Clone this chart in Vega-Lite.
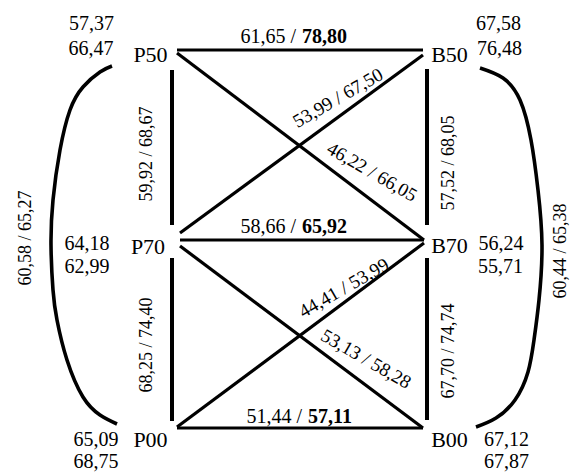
{
  "$schema": "https://vega.github.io/schema/vega-lite/v6.json",
  "width": 573,
  "height": 472,
  "autosize": {"type": "none"},
  "padding": 0,
  "background": "white",
  "config": {"view": {"stroke": null}},
  "datasets": {
    "edges": [
      {"link": "P50-B50", "kind": "horizontal", "x1": 177, "y1": 50, "x2": 423, "y2": 50},
      {"link": "P70-B70", "kind": "horizontal", "x1": 180, "y1": 240, "x2": 424, "y2": 240},
      {"link": "P00-B00", "kind": "horizontal", "x1": 177, "y1": 428, "x2": 423, "y2": 428},
      {"link": "P50-P70", "kind": "vertical", "x1": 172, "y1": 70, "x2": 172, "y2": 225},
      {"link": "P70-P00", "kind": "vertical", "x1": 172, "y1": 258, "x2": 172, "y2": 421},
      {"link": "B50-B70", "kind": "vertical", "x1": 427, "y1": 69, "x2": 427, "y2": 225},
      {"link": "B70-B00", "kind": "vertical", "x1": 427, "y1": 258, "x2": 427, "y2": 420},
      {"link": "P50-B70", "kind": "diagonal", "x1": 177, "y1": 53, "x2": 424, "y2": 240},
      {"link": "P70-B50", "kind": "diagonal", "x1": 180, "y1": 233, "x2": 423, "y2": 55},
      {"link": "P70-B00", "kind": "diagonal", "x1": 180, "y1": 246, "x2": 423, "y2": 428},
      {"link": "P00-B70", "kind": "diagonal", "x1": 177, "y1": 427, "x2": 424, "y2": 243}
    ],
    "arcs": [
      {"side": "P", "i": 0, "x": 112, "y": 66},
      {"side": "P", "i": 1, "x": 100, "y": 72},
      {"side": "P", "i": 2, "x": 83, "y": 87},
      {"side": "P", "i": 3, "x": 70, "y": 110},
      {"side": "P", "i": 4, "x": 60, "y": 150},
      {"side": "P", "i": 5, "x": 53, "y": 200},
      {"side": "P", "i": 6, "x": 51, "y": 245},
      {"side": "P", "i": 7, "x": 53, "y": 290},
      {"side": "P", "i": 8, "x": 57, "y": 320},
      {"side": "P", "i": 9, "x": 67, "y": 360},
      {"side": "P", "i": 10, "x": 83, "y": 397},
      {"side": "P", "i": 11, "x": 100, "y": 415},
      {"side": "P", "i": 12, "x": 117, "y": 424},
      {"side": "B", "i": 0, "x": 480, "y": 68},
      {"side": "B", "i": 1, "x": 503, "y": 78},
      {"side": "B", "i": 2, "x": 520, "y": 100},
      {"side": "B", "i": 3, "x": 531, "y": 140},
      {"side": "B", "i": 4, "x": 538, "y": 190},
      {"side": "B", "i": 5, "x": 542, "y": 245},
      {"side": "B", "i": 6, "x": 539, "y": 300},
      {"side": "B", "i": 7, "x": 534, "y": 340},
      {"side": "B", "i": 8, "x": 528, "y": 372},
      {"side": "B", "i": 9, "x": 515, "y": 400},
      {"side": "B", "i": 10, "x": 496, "y": 418},
      {"side": "B", "i": 11, "x": 476, "y": 427}
    ],
    "nodes": [
      {"name": "P50", "x": 150.5, "y": 62},
      {"name": "B50", "x": 449.5, "y": 62},
      {"name": "P70", "x": 148, "y": 254},
      {"name": "B70", "x": 449.5, "y": 253},
      {"name": "P00", "x": 150.5, "y": 447},
      {"name": "B00", "x": 449.5, "y": 447}
    ],
    "values": [
      {"node": "P50", "text": "57,37", "x": 91.5, "y": 30},
      {"node": "P50", "text": "66,47", "x": 91, "y": 55},
      {"node": "B50", "text": "67,58", "x": 498.5, "y": 30},
      {"node": "B50", "text": "76,48", "x": 499.5, "y": 55},
      {"node": "P70", "text": "64,18", "x": 87, "y": 250},
      {"node": "P70", "text": "62,99", "x": 87, "y": 273},
      {"node": "B70", "text": "56,24", "x": 501, "y": 250},
      {"node": "B70", "text": "55,71", "x": 500.5, "y": 273},
      {"node": "P00", "text": "65,09", "x": 96, "y": 446},
      {"node": "P00", "text": "68,75", "x": 96, "y": 468},
      {"node": "B00", "text": "67,12", "x": 506.5, "y": 446},
      {"node": "B00", "text": "67,87", "x": 506.5, "y": 468}
    ],
    "hlabels": [
      {"link": "P50-B50", "normal": "61,65 /", "bold": "78,80", "x": 302, "y": 43},
      {"link": "P70-B70", "normal": "58,66 /", "bold": "65,92", "x": 302, "y": 233},
      {"link": "P00-B00", "normal": "51,44 /", "bold": "57,11", "x": 308, "y": 423}
    ],
    "vlabels": [
      {"link": "P50-P70", "text": "59,92 / 68,67", "x": 147, "y": 154},
      {"link": "P70-P00", "text": "68,25 / 74,40", "x": 147, "y": 345},
      {"link": "B50-B70", "text": "57,52 / 68,05", "x": 449, "y": 163},
      {"link": "B70-B00", "text": "67,70 / 74,74", "x": 449, "y": 351},
      {"link": "P50-P00", "text": "60,58 / 65,27", "x": 26, "y": 238},
      {"link": "B50-B00", "text": "60,44 / 65,38", "x": 561, "y": 251}
    ],
    "dlabels": [
      {"link": "P70-B50", "dir": "up", "text": "53,99 / 67,50", "x": 338, "y": 98},
      {"link": "P00-B70", "dir": "up", "text": "44,41 / 53,99", "x": 344, "y": 288},
      {"link": "P50-B70", "dir": "down", "text": "46,22 / 66,05", "x": 372, "y": 172},
      {"link": "P70-B00", "dir": "down", "text": "53,13 / 58,28", "x": 366, "y": 359}
    ]
  },
  "layer": [
    {
      "data": {"name": "edges"},
      "transform": [{"filter": "datum.kind !== 'vertical'"}],
      "mark": {"type": "rule", "strokeWidth": 3.2, "color": "black", "strokeCap": "butt"},
      "encoding": {
        "x": {"field": "x1", "type": "quantitative", "scale": {"domain": [0, 573]}, "axis": null},
        "y": {"field": "y1", "type": "quantitative", "scale": {"domain": [0, 472], "reverse": true}, "axis": null},
        "x2": {"field": "x2"},
        "y2": {"field": "y2"}
      }
    },
    {
      "data": {"name": "edges"},
      "transform": [{"filter": "datum.kind === 'vertical'"}],
      "mark": {"type": "rule", "strokeWidth": 4, "color": "black", "strokeCap": "butt"},
      "encoding": {
        "x": {"field": "x1", "type": "quantitative", "scale": {"domain": [0, 573]}, "axis": null},
        "y": {"field": "y1", "type": "quantitative", "scale": {"domain": [0, 472], "reverse": true}, "axis": null},
        "x2": {"field": "x2"},
        "y2": {"field": "y2"}
      }
    },
    {
      "data": {"name": "arcs"},
      "mark": {"type": "line", "strokeWidth": 3.6, "color": "black", "interpolate": "natural", "strokeCap": "butt"},
      "encoding": {
        "x": {"field": "x", "type": "quantitative", "scale": {"domain": [0, 573]}, "axis": null},
        "y": {"field": "y", "type": "quantitative", "scale": {"domain": [0, 472], "reverse": true}, "axis": null},
        "order": {"field": "i", "type": "quantitative"},
        "detail": {"field": "side", "type": "nominal"}
      }
    },
    {
      "data": {"name": "nodes"},
      "mark": {"type": "text", "font": "Liberation Serif", "color": "black", "fontSize": 22, "align": "center", "baseline": "alphabetic"},
      "encoding": {
        "x": {"field": "x", "type": "quantitative", "scale": {"domain": [0, 573]}, "axis": null},
        "y": {"field": "y", "type": "quantitative", "scale": {"domain": [0, 472], "reverse": true}, "axis": null},
        "text": {"field": "name"}
      }
    },
    {
      "data": {"name": "values"},
      "mark": {"type": "text", "font": "Liberation Serif", "color": "black", "fontSize": 20, "align": "center", "baseline": "alphabetic"},
      "encoding": {
        "x": {"field": "x", "type": "quantitative", "scale": {"domain": [0, 573]}, "axis": null},
        "y": {"field": "y", "type": "quantitative", "scale": {"domain": [0, 472], "reverse": true}, "axis": null},
        "text": {"field": "text"}
      }
    },
    {
      "data": {"name": "hlabels"},
      "mark": {"type": "text", "font": "Liberation Serif", "color": "black", "fontSize": 20, "align": "right", "baseline": "alphabetic", "dx": -6},
      "encoding": {
        "x": {"field": "x", "type": "quantitative", "scale": {"domain": [0, 573]}, "axis": null},
        "y": {"field": "y", "type": "quantitative", "scale": {"domain": [0, 472], "reverse": true}, "axis": null},
        "text": {"field": "normal"}
      }
    },
    {
      "data": {"name": "hlabels"},
      "mark": {"type": "text", "font": "Liberation Serif", "color": "black", "fontSize": 20, "fontWeight": "bold", "align": "left", "baseline": "alphabetic"},
      "encoding": {
        "x": {"field": "x", "type": "quantitative", "scale": {"domain": [0, 573]}, "axis": null},
        "y": {"field": "y", "type": "quantitative", "scale": {"domain": [0, 472], "reverse": true}, "axis": null},
        "text": {"field": "bold"}
      }
    },
    {
      "data": {"name": "vlabels"},
      "mark": {"type": "text", "font": "Liberation Serif", "color": "black", "fontSize": 18, "align": "center", "baseline": "middle", "angle": 270},
      "encoding": {
        "x": {"field": "x", "type": "quantitative", "scale": {"domain": [0, 573]}, "axis": null},
        "y": {"field": "y", "type": "quantitative", "scale": {"domain": [0, 472], "reverse": true}, "axis": null},
        "text": {"field": "text"}
      }
    },
    {
      "data": {"name": "dlabels"},
      "transform": [{"filter": "datum.dir === 'up'"}],
      "mark": {"type": "text", "font": "Liberation Serif", "color": "black", "fontSize": 19, "align": "center", "baseline": "middle", "angle": 330},
      "encoding": {
        "x": {"field": "x", "type": "quantitative", "scale": {"domain": [0, 573]}, "axis": null},
        "y": {"field": "y", "type": "quantitative", "scale": {"domain": [0, 472], "reverse": true}, "axis": null},
        "text": {"field": "text"}
      }
    },
    {
      "data": {"name": "dlabels"},
      "transform": [{"filter": "datum.dir === 'down'"}],
      "mark": {"type": "text", "font": "Liberation Serif", "color": "black", "fontSize": 19, "align": "center", "baseline": "middle", "angle": 30},
      "encoding": {
        "x": {"field": "x", "type": "quantitative", "scale": {"domain": [0, 573]}, "axis": null},
        "y": {"field": "y", "type": "quantitative", "scale": {"domain": [0, 472], "reverse": true}, "axis": null},
        "text": {"field": "text"}
      }
    }
  ]
}
